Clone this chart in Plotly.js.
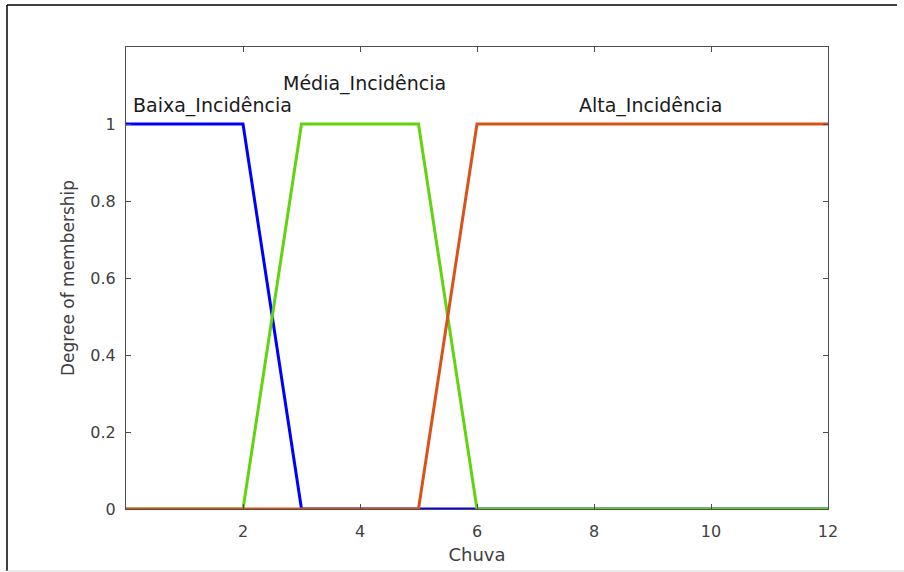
<!DOCTYPE html>
<html>
<head>
<meta charset="utf-8">
<script src="https://cdn.plot.ly/plotly-3.0.1.min.js"></script>
<style>html,body{margin:0;padding:0;background:#fff;}#chart{width:904px;height:572px;}</style>
</head>
<body>
<div id="chart"></div>
<script>
const baixaX = [0, 2, 3, 12];
const baixaY = [1, 1, 0, 0];
const mediaX = [0, 2, 3, 5, 6, 12];
const mediaY = [0, 0, 1, 1, 0, 0];
const altaX = [0, 5, 6, 12];
const altaY = [0, 0, 1, 1];
const labels = ["Baixa_Incidência", "Média_Incidência", "Alta_Incidência"];
const labelX = [0.09, 4.08, 8.97];
const labelY = [1.047, 1.104, 1.047];
const xTicks = [2, 4, 6, 8, 10, 12];
const yTicks = [0, 0.2, 0.4, 0.6, 0.8, 1];

const font = "DejaVu Sans, Verdana, sans-serif";
const traces = [
  {x: baixaX, y: baixaY, mode: "lines", line: {color: "#0000ff", width: 3}},
  {x: mediaX, y: mediaY, mode: "lines", line: {color: "#62d40f", width: 3}},
  {x: altaX, y: altaY, mode: "lines", line: {color: "#d95319", width: 3}}
];
const layout = {
  width: 904, height: 572,
  margin: {l: 126, r: 76, t: 47, b: 63},
  paper_bgcolor: "#fff", plot_bgcolor: "#fff",
  showlegend: false,
  font: {family: font, color: "#404040", size: 15},
  xaxis: {
    range: [0, 12], tickvals: xTicks, ticktext: xTicks.map(String),
    ticks: "inside", ticklen: 5, tickcolor: "#4d4d4d",
    showline: true, linecolor: "#4d4d4d", linewidth: 1, mirror: "ticks",
    showgrid: false, zeroline: false, ticklabelstandoff: 8,
    tickfont: {size: 16, color: "#404040"},
    title: {text: "Chuva", font: {size: 18, color: "#404040"}, standoff: 8}
  },
  yaxis: {
    range: [0, 1.2], tickvals: yTicks, ticktext: yTicks.map(String),
    ticks: "inside", ticklen: 5, tickcolor: "#4d4d4d",
    showline: true, linecolor: "#4d4d4d", linewidth: 1, mirror: "ticks",
    showgrid: false, zeroline: false, ticklabelstandoff: 6,
    tickfont: {size: 16, color: "#404040"},
    title: {text: "Degree of membership", font: {size: 17, color: "#404040"}, standoff: 11}
  },
  annotations: labels.map((t, i) => ({
    x: labelX[i], y: labelY[i], xref: "x", yref: "y", text: t, showarrow: false,
    xanchor: i === 0 ? "left" : "center", yanchor: "middle",
    font: {size: 19, color: "#1a1a1a", family: font}
  })),
  shapes: [
    {type: "line", xref: "paper", yref: "paper", x0: -119/702, x1: -119/702, y0: -62/462, y1: 1 + 42/462, line: {color: "#000", width: 1.5}},
    {type: "line", xref: "paper", yref: "paper", x0: -119/702, x1: 1 + 69/702, y0: 1 + 42/462, y1: 1 + 42/462, line: {color: "#000", width: 1.5}},
    {type: "line", xref: "paper", yref: "paper", x0: -119/702, x1: 1 + 76/702, y0: -62/462, y1: -62/462, line: {color: "#d9d9d9", width: 1}}
  ]
};
Plotly.newPlot("chart", traces, layout, {displayModeBar: false, staticPlot: true});
</script>
</body>
</html>
